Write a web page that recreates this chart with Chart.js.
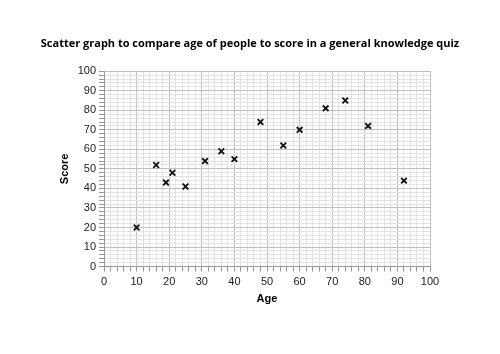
<!DOCTYPE html>
<html>
<head>
<meta charset="utf-8">
<script src="https://cdn.jsdelivr.net/npm/chart.js@4"></script>
<style>
  html, body { margin: 0; padding: 0; background: #fff; }
</style>
</head>
<body>
<canvas id="chart" width="500" height="354"></canvas>
<script>
const ages = [10, 16, 19, 21, 25, 31, 36, 40, 48, 55, 60, 68, 74, 81, 92];
const scores = [20, 52, 43, 48, 41, 54, 59, 55, 74, 62, 70, 81, 85, 72, 44];

const titleText = 'Scatter graph to compare age of people to score in a general knowledge quiz';

const gridColor = (ctx) => (ctx.tick && ctx.tick.value % 10 === 0) ? '#c0c0c0' : '#e2e2e2';
const tickLabel = (v) => (v % 10 === 0 ? v : '');

new Chart(document.getElementById('chart'), {
    type: 'scatter',
    data: {
        datasets: [
            {
                label: 'Score',
                data: ages.map((a, i) => ({ x: a, y: scores[i] })),
                pointStyle: 'crossRot',
                pointRadius: 4,
                pointBorderWidth: 1.8,
                borderColor: '#111',
                backgroundColor: '#111',
            }
        ]
    },
    options: {
        responsive: false,
        animation: false,
        // no side padding so the title gets the full width
        layout: { padding: { left: 0, right: 0, top: 8, bottom: 44 } },
        plugins: {
            legend: { display: false },
            tooltip: { enabled: false },
            title: {
                display: true,
                text: titleText,
                color: '#000',
                font: { family: 'Open Sans', size: 11, weight: 'bold' },
                padding: { top: 29, bottom: 21 },
            },
        },
        scales: {
            x: {
                type: 'linear',
                min: 0,
                max: 100,
                title: { display: true, text: 'Age', color: '#000', font: { family: 'Liberation Sans', size: 11, weight: 'bold' }, padding: { top: 0 } },
                ticks: { stepSize: 2, autoSkip: false, maxTicksLimit: 60, maxRotation: 0, callback: tickLabel, color: '#222', font: { family: 'Liberation Sans', size: 11 }, padding: 4 },
                grid: { color: gridColor, tickLength: 5, tickColor: '#999' },
                border: { color: '#999' },
            },
            y: {
                min: 0,
                max: 100,
                title: { display: true, text: 'Score', color: '#000', font: { family: 'Liberation Sans', size: 11, weight: 'bold' }, padding: { top: 58, bottom: 4 } },
                ticks: { stepSize: 2, autoSkip: false, maxTicksLimit: 60, callback: tickLabel, color: '#222', font: { family: 'Liberation Sans', size: 11 } },
                grid: { color: gridColor, tickLength: 5, tickColor: '#999' },
                border: { color: '#999' },
                afterFit: (scale) => { scale.width = 104; },
            },
            // empty right axis, only to leave the white margin on the right
            yRight: {
                position: 'right',
                min: 0,
                max: 100,
                ticks: { display: false },
                grid: { display: false },
                border: { display: false },
                afterFit: (scale) => { scale.width = 70; },
            },
        },
    },
});
</script>
</body>
</html>
